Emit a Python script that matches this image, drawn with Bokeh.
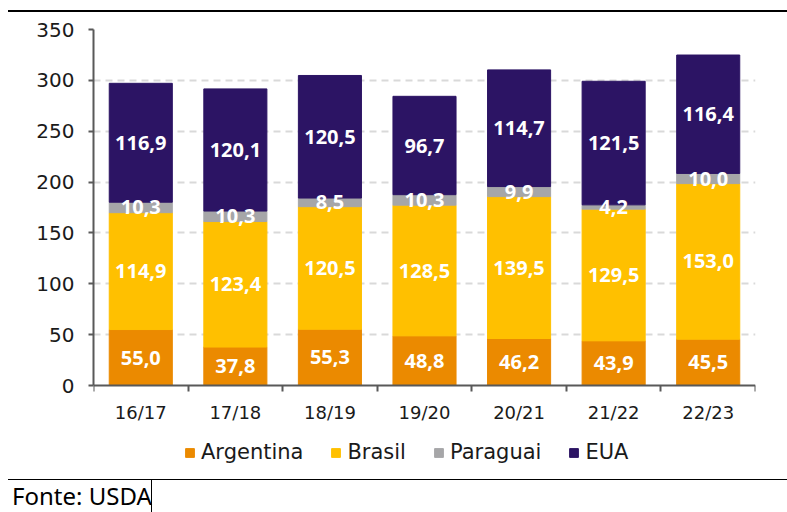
import numpy as np
from bokeh.plotting import figure
from bokeh.models import ColumnDataSource, FixedTicker, Div, Legend, LegendItem
from bokeh.layouts import column
from bokeh.core.properties import value
from bokeh.embed import file_html
from bokeh.resources import INLINE

# Soybean production by season (million tonnes)
seasons = ["16/17", "17/18", "18/19", "19/20", "20/21", "21/22", "22/23"]
argentina = [55.0, 37.8, 55.3, 48.8, 46.2, 43.9, 45.5]
brasil = [114.9, 123.4, 120.5, 128.5, 139.5, 129.5, 153.0]
paraguai = [10.3, 10.3, 8.5, 10.3, 9.9, 4.2, 10.0]
eua = [116.9, 120.1, 120.5, 96.7, 114.7, 121.5, 116.4]

names = ["Argentina", "Brasil", "Paraguai", "EUA"]
series = [argentina, brasil, paraguai, eua]
colors = ["#EB8A00", "#FFC000", "#A6A6A8", "#2C1464"]
y_ticks = [0, 50, 100, 150, 200, 250, 300, 350]

n = len(seasons)
centers = [i + 0.5 for i in range(n)]
bounds = list(range(n + 1))

data = dict(x=centers)
for name, s in zip(names, series):
    data[name] = s
source = ColumnDataSource(data)

AXIS = "#595959"
TXT = "#1a1a1a"

# Frame layout: the value axis spans 356 px for 0..350; the frame continues
# below zero so the category axis and the legend can sit inside it.
FIG_H = 467
TOP = 17
AXIS_PX = 356
Y_MAX = 350
frame_px = FIG_H - TOP
y_min = Y_MAX - frame_px * Y_MAX / AXIS_PX

p = figure(width=787, height=FIG_H, x_range=(0, n), y_range=(y_min, Y_MAX),
           output_backend="svg", toolbar_location=None,
           min_border_left=93, min_border_right=32,
           min_border_top=TOP, min_border_bottom=0)
p.outline_line_color = None
p.background_fill_color = "white"
p.border_fill_color = "white"

bars = p.vbar_stack(names, x="x", width=0.667, color=colors, source=source)

# value labels centred in each segment
lx, ly, lt = [], [], []
base = np.zeros(n)
for s in series:
    arr = np.array(s)
    mid = base + arr / 2
    for i in range(n):
        lx.append(centers[i])
        ly.append(mid[i])
        lt.append(f"{arr[i]:.1f}".replace(".", ","))
    base = base + arr
p.text(x=lx, y=ly, text=lt, text_color="white",
       text_font=value("Open Sans"), text_font_style="bold",
       text_font_size="20px", text_align="center", text_baseline="middle")

# y axis
p.yaxis.ticker = FixedTicker(ticks=y_ticks)
p.yaxis.bounds = (0, Y_MAX)
p.yaxis.axis_line_color = AXIS
p.yaxis.axis_line_width = 2
p.yaxis.major_tick_line_color = AXIS
p.yaxis.major_tick_line_width = 2
p.yaxis.major_tick_out = 5
p.yaxis.major_tick_in = 0
p.yaxis.minor_tick_line_color = None
p.yaxis.major_label_standoff = 14
p.yaxis.major_label_text_font = "DejaVu Sans"
p.yaxis.major_label_text_font_size = "20px"
p.yaxis.major_label_text_color = TXT

# x axis pinned at zero: labels at bar centres, tick marks at boundaries
p.xaxis.fixed_location = 0
p.xaxis.ticker = FixedTicker(ticks=centers, minor_ticks=bounds)
p.xaxis.major_label_overrides = {c: s for c, s in zip(centers, seasons)}
p.xaxis.axis_line_color = AXIS
p.xaxis.axis_line_width = 2
p.xaxis.major_tick_line_color = None
p.xaxis.major_tick_out = 0
p.xaxis.major_tick_in = 0
p.xaxis.minor_tick_line_color = AXIS
p.xaxis.minor_tick_line_width = 2
p.xaxis.minor_tick_out = 6
p.xaxis.minor_tick_in = 0
p.xaxis.major_label_standoff = 10
p.xaxis.major_label_text_font = "DejaVu Sans"
p.xaxis.major_label_text_font_size = "18px"
p.xaxis.major_label_text_color = TXT

p.xgrid.grid_line_color = None
p.ygrid.ticker = FixedTicker(ticks=y_ticks[1:])
p.ygrid.grid_line_color = "#D9D9D9"
p.ygrid.grid_line_width = 2
p.ygrid.grid_line_dash = "7 5"

leg = Legend(items=[LegendItem(label=nm, renderers=[r]) for nm, r in zip(names, bars)],
             location=(91, 15), orientation="horizontal",
             border_line_color=None, background_fill_alpha=0,
             glyph_width=11, glyph_height=11, label_standoff=6, spacing=27,
             padding=0, margin=0, label_height=20,
             label_text_font="DejaVu Sans", label_text_font_size="21px",
             label_text_color=TXT)
p.add_layout(leg)

top_rule = Div(
    text='<div style="margin:10px 0 0 8px;width:779px;height:2px;background:#000;"></div>',
    width=787, height=12, margin=0)

footer = Div(
    text=('<div style="position:relative;width:787px;height:33px;'
          'font-family:\'Noto Sans\';font-size:24px;color:#000;">'
          '<div style="position:absolute;left:8px;width:779px;top:0;height:0;'
          'border-top:1px solid #000;"></div>'
          '<div style="position:absolute;left:151px;top:0;width:0;height:33px;'
          'border-left:1px solid #000;"></div>'
          '<div style="position:absolute;left:12px;top:1px;line-height:32px;'
          'white-space:nowrap;">Fonte: USDA</div></div>'),
    width=787, height=33, margin=0)

layout = column(top_rule, p, footer, spacing=0)
open("out.html", "w").write(file_html(layout, INLINE))
